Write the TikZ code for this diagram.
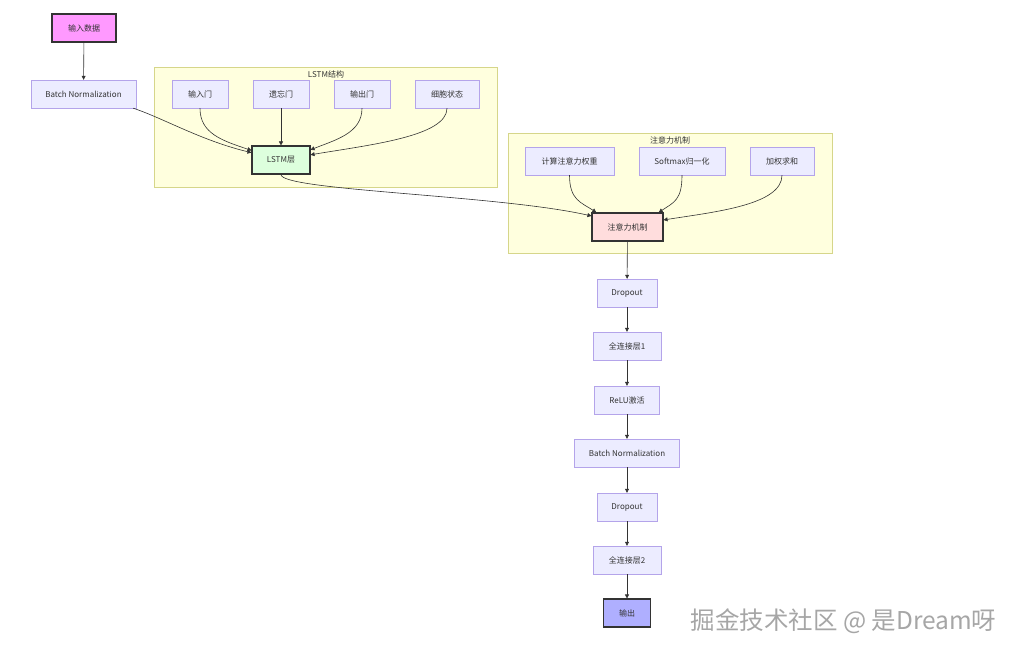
\documentclass[tikz,border=0pt]{standalone}
\usepackage{fontspec}
\setmainfont{Noto Sans CJK SC}
\usepackage{tikz}
\usetikzlibrary{arrows.meta}
\definecolor{boxfill}{HTML}{ECECFF}
\definecolor{boxline}{HTML}{B4A4EA}
\definecolor{grpfill}{HTML}{FFFFDE}
\definecolor{grpline}{HTML}{D6D68A}
\definecolor{dark}{HTML}{333333}
\definecolor{inpfill}{HTML}{FF99FF}
\definecolor{lstmfill}{HTML}{DDFFDD}
\definecolor{attfill}{HTML}{FFDDDD}
\definecolor{outfill}{HTML}{AFAFFF}

\begin{document}
\begin{tikzpicture}[x=1pt,y=1pt,font=\fontsize{8}{10}\selectfont,
  blk/.style={draw=boxline,fill=boxfill,text=dark,minimum height=28pt,inner sep=0pt},
  key/.style={draw=dark,line width=1.1pt,text=dark,minimum height=28pt,inner sep=0pt},
  edge/.style={draw=dark,line width=0.6pt,-{Triangle[length=4pt,width=4pt]}}]
\useasboundingbox (0,0) rectangle (1020,-655);
% groups
\draw[grpline,fill=grpfill] (154,-67) rectangle (497,-187);
\node[text=dark] (glstm) at (326,-74) {LSTM结构};
\draw[grpline,fill=grpfill] (508,-133) rectangle (832,-253);
\node[text=dark] (gatt) at (670,-140) {注意力机制};
% nodes
\node[key,fill=inpfill,minimum width=64pt] (data) at (84,-28) {输入数据};
\node[blk,minimum width=105pt] (bn1) at (83.5,-94) {Batch Normalization};
\node[blk,minimum width=56pt] (gin) at (200,-94) {输入门};
\node[blk,minimum width=56pt] (gforget) at (281,-94) {遗忘门};
\node[blk,minimum width=56pt] (gout) at (362,-94) {输出门};
\node[blk,minimum width=64pt] (cell) at (447,-94) {细胞状态};
\node[key,fill=lstmfill,minimum width=58pt] (lstm) at (281,-160) {LSTM层};
\node[blk,minimum width=89pt] (score) at (569.5,-161) {计算注意力权重};
\node[blk,minimum width=86pt] (softmax) at (682,-161) {Softmax归一化};
\node[blk,minimum width=64pt] (wsum) at (782,-161) {加权求和};
\node[key,fill=attfill,minimum width=71pt] (attn) at (627.5,-227) {注意力机制};
\node[blk,minimum width=60pt] (drop1) at (627,-293) {Dropout};
\node[blk,minimum width=68pt] (fc1) at (627,-346) {全连接层1};
\node[blk,minimum width=65pt] (relu) at (627,-400) {ReLU激活};
\node[blk,minimum width=105pt] (bn2) at (627,-453) {Batch Normalization};
\node[blk,minimum width=60pt] (drop2) at (627,-507) {Dropout};
\node[blk,minimum width=68pt] (fc2) at (627,-560) {全连接层2};
\node[key,fill=outfill,minimum width=47pt] (out) at (627,-613) {输出};
\node[text=gray!70,font=\fontsize{24.5}{26}\selectfont] (mark) at (843.5,-621) {掘金技术社区 @ 是Dream呀};
% edges
\draw[edge] (data) -- (bn1);
\draw[edge] ([xshift=-3pt]bn1.south east) .. controls +(30,-10) and +(-50,12) .. (lstm.166);
\draw[edge] (gin.south) .. controls +(0,-25) and +(-30,10) .. (lstm.162);
\draw[edge] (gforget) -- (lstm);
\draw[edge] (gout.south) .. controls +(0,-25) and +(25,10) .. (lstm.19);
\draw[edge] (cell.south) .. controls +(0,-28) and +(60,10) .. (lstm.10);
\draw[edge] (lstm.south) .. controls +(0,-16) and +(-92,21) .. (attn.163);
\draw[edge] (score.south) .. controls +(0,-25) and +(-15,10) .. (attn.155);
\draw[edge] (softmax.south) .. controls +(0,-25) and +(15,10) .. (attn.25);
\draw[edge] (wsum.south) .. controls +(0,-30) and +(50,8) .. (attn.11);
\draw[edge] (attn) -- (drop1);
\draw[edge] (drop1) -- (fc1);
\draw[edge] (fc1) -- (relu);
\draw[edge] (relu) -- (bn2);
\draw[edge] (bn2) -- (drop2);
\draw[edge] (drop2) -- (fc2);
\draw[edge] (fc2) -- (out);
\end{tikzpicture}
\end{document}
